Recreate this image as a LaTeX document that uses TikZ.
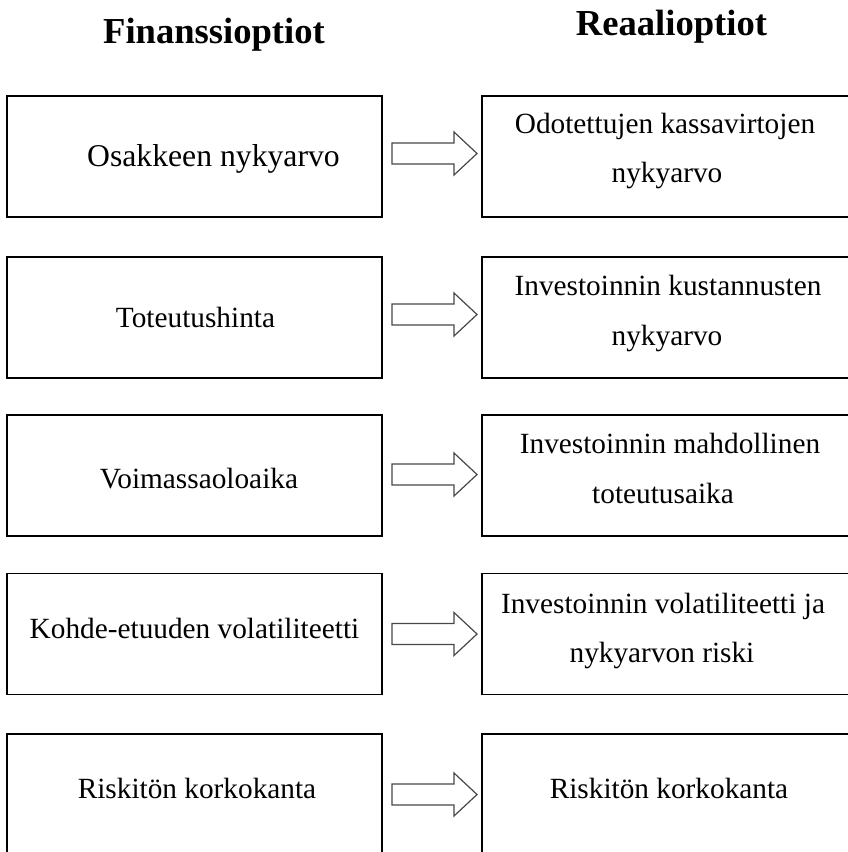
\documentclass[tikz,border=0pt]{standalone}
\usepackage{fontspec}
\setmainfont{Liberation Serif}
\usetikzlibrary{calc}
\tikzset{
  box/.style={draw=black, line width=1.1pt, minimum width=375pt, minimum height=121pt, inner sep=0pt, outer sep=0pt},
  rbox/.style={box, minimum width=380pt},
  txt/.style={font=\fontsize{29.3}{35}\selectfont, anchor=base, inner sep=0pt},
  bigtxt/.style={font=\fontsize{31.7}{38}\selectfont, anchor=base, inner sep=0pt},
  hdr/.style={font=\fontsize{36.6}{44}\selectfont\bfseries, anchor=base, inner sep=0pt},
  barrow/.style={draw=black!72, line width=1.2pt, line join=miter},
}
\newcommand\blockarr[3]{%
  \draw[barrow] ($(#1.east)+(10,#3-10.5)$) -- ($(#2.west)+(-28,#3-10.5)$)
    -- ($(#2.west)+(-28,#3-21.5)$) -- ($(#2.west)+(-5,#3)$)
    -- ($(#2.west)+(-28,#3+21.5)$) -- ($(#2.west)+(-28,#3+10.5)$)
    -- ($(#1.east)+(10,#3+10.5)$) -- cycle;}
\begin{document}
\begin{tikzpicture}[x=1pt,y=-1pt]
\useasboundingbox (0,0) rectangle (847,852);
% headers
\node[hdr] (H1) at (214,43) {Finanssioptiot};
\node[hdr] (H2) at (671.5,35) {Reaalioptiot};
% boxes
\node[box]  (L1) at (194.5,156.5) {};
\node[rbox] (R1) at (672,156.5) {};
\node[box]  (L2) at (194.5,317.5) {};
\node[rbox] (R2) at (672,317.5) {};
\node[box]  (L3) at (194.5,475.5) {};
\node[rbox] (R3) at (672,475.5) {};
\node[box]  (L4) at (194.5,634) {};
\node[rbox] (R4) at (672,634) {};
\node[box]  (L5) at (194.5,794.5) {};
\node[rbox] (R5) at (672,794.5) {};
% texts
\node[bigtxt] (L1t) at (213.5,166) {Osakkeen nykyarvo};
\node[txt] (R1a) at (665,133.5) {Odotettujen kassavirtojen};
\node[txt] (R1b) at (667,182) {nykyarvo};
\node[txt] (L2t) at (195.5,327) {Toteutushinta};
\node[txt] (R2a) at (668,295) {Investoinnin kustannusten};
\node[txt] (R2b) at (667,345) {nykyarvo};
\node[txt] (L3t) at (199,488) {Voimassaoloaika};
\node[txt] (R3a) at (670,453) {Investoinnin mahdollinen};
\node[txt] (R3b) at (663,503) {toteutusaika};
\node[txt] (L4t) at (194.5,638) {Kohde-etuuden volatiliteetti};
\node[txt] (R4a) at (663,613) {Investoinnin volatiliteetti ja};
\node[txt] (R4b) at (662,662) {nykyarvon riski};
\node[txt] (L5t) at (197,798) {Riskitön korkokanta};
\node[txt] (R5t) at (669,798) {Riskitön korkokanta};
% arrows
\blockarr{L1}{R1}{-3}
\blockarr{L2}{R2}{-3}
\blockarr{L3}{R3}{-1}
\blockarr{L4}{R4}{0}
\blockarr{L5}{R5}{0}
\end{tikzpicture}
\end{document}
